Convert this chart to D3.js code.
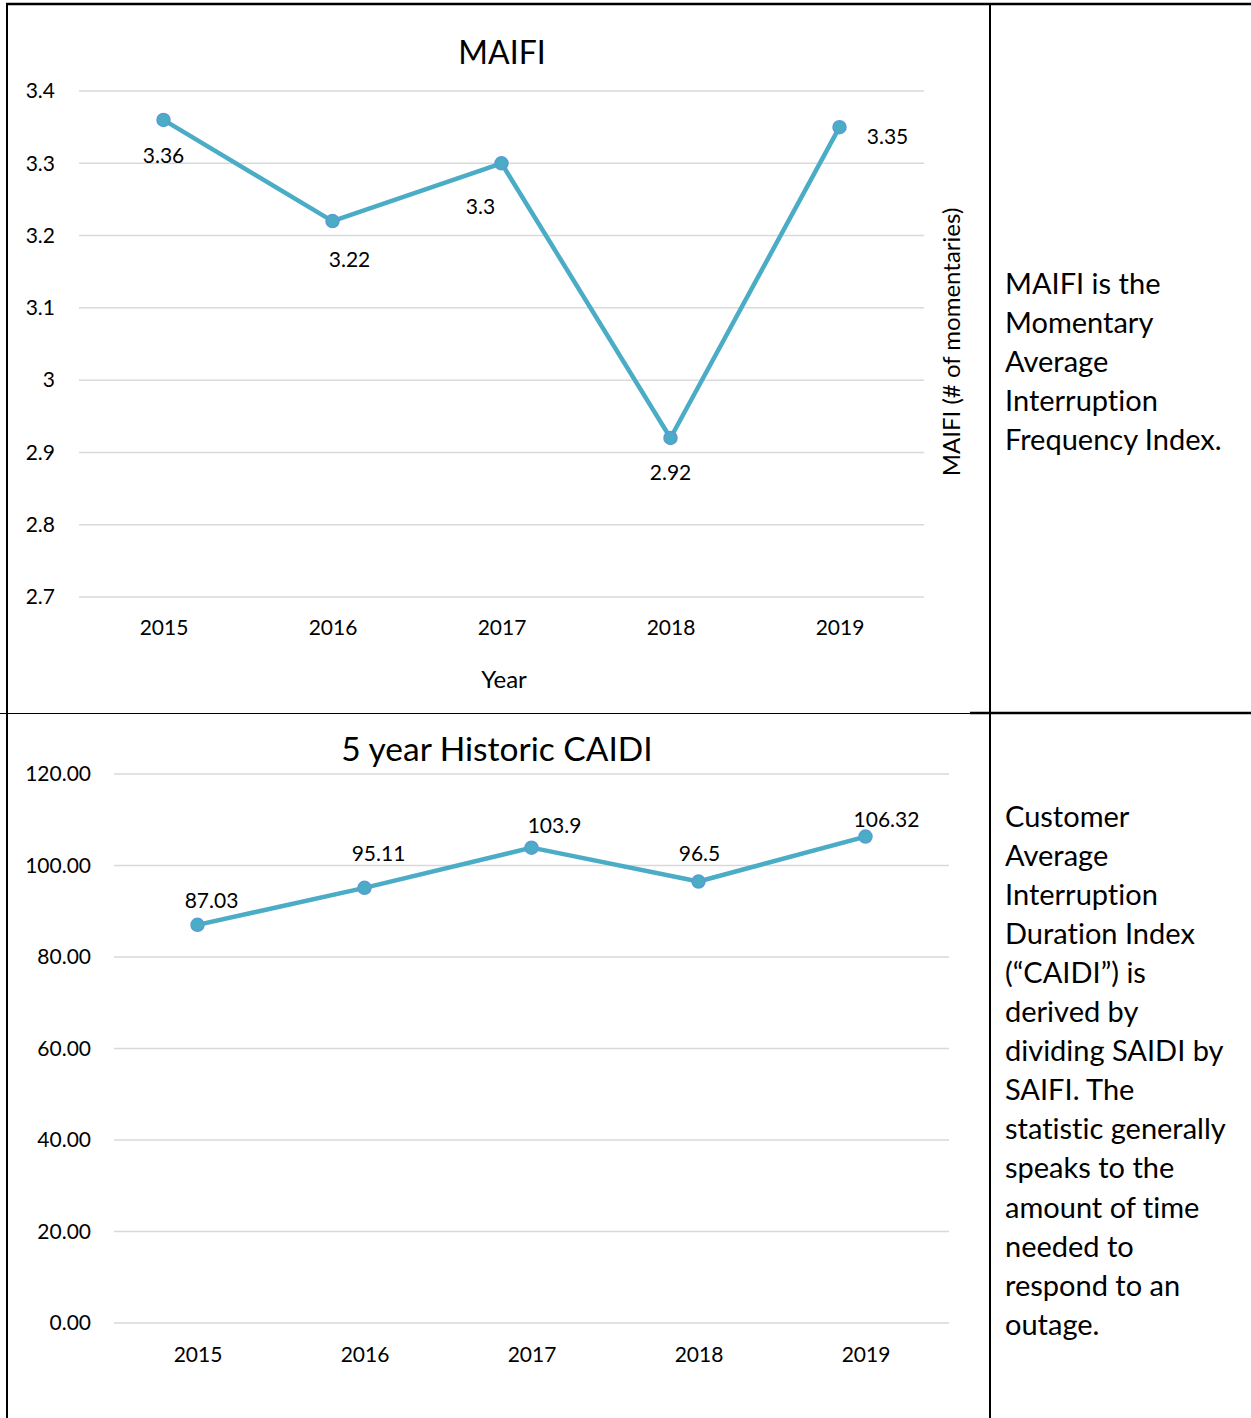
<!DOCTYPE html>
<html><head><meta charset="utf-8">
<script src="https://cdn.jsdelivr.net/npm/d3@7"></script>
<style>body{margin:0;background:#fff}svg{display:block}text{font-family:Lato,"Open Sans",sans-serif;fill:#000;font-variant-ligatures:none;font-feature-settings:"liga" 0}</style>
</head><body>
<svg id="c" width="1251" height="1418"></svg>
<script>
// ---- data ----
const years = ["2015","2016","2017","2018","2019"];
const maifiValues = [3.36, 3.22, 3.3, 2.92, 3.35];
const maifiLabels = ["3.36","3.22","3.3","2.92","3.35"];
const maifiTicks = [2.7,2.8,2.9,3.0,3.1,3.2,3.3,3.4];
const maifiTickLabels = ["2.7","2.8","2.9","3","3.1","3.2","3.3","3.4"];
const caidiValues = [87.03, 95.11, 103.9, 96.5, 106.32];
const caidiLabels = ["87.03","95.11","103.9","96.5","106.32"];
const caidiTicks = [0,20,40,60,80,100,120];
const caidiTickLabels = ["0.00","20.00","40.00","60.00","80.00","100.00","120.00"];
const maifiText = ["MAIFI is the","Momentary","Average","Interruption","Frequency Index."];
const caidiText = ["Customer","Average","Interruption","Duration Index","(\u201cCAIDI\u201d) is","derived by","dividing SAIDI by","SAIFI. The","statistic generally","speaks to the","amount of time","needed to","respond to an","outage."];

// ---- layout / style (not data) ----
const maifiOffsets = [[0,35],[17,37],[-21,42],[0,34],[48,8]];
const caidiOffsets = [[14,-25],[14,-35],[23,-23],[1,-29],[21,-18]];
const LINE = "#4BACC6", MARK_STROKE = "#5B9BD5", GRID = "#d9d9d9";

const svg = d3.select("#c");

// table borders
const bl = svg.append("g").attr("stroke","#000");
bl.append("line").attr("x1",6).attr("x2",1251).attr("y1",4).attr("y2",4).attr("stroke-width",2.5);
bl.append("line").attr("x1",7).attr("x2",7).attr("y1",3).attr("y2",1418).attr("stroke-width",2);
bl.append("line").attr("x1",990).attr("x2",990).attr("y1",3).attr("y2",1418).attr("stroke-width",2);
bl.append("line").attr("x1",0).attr("x2",970).attr("y1",713.5).attr("y2",713.5).attr("stroke-width",1);
bl.append("line").attr("x1",970).attr("x2",1251).attr("y1",713).attr("y2",713).attr("stroke-width",2.5);

function chart(cfg){
  const g = svg.append("g");
  const x = d3.scalePoint().domain(years).range([cfg.left,cfg.right]).padding(0.5);
  const y = d3.scaleLinear().domain(cfg.domain).range([cfg.bottom,cfg.top]);
  // grid
  g.append("g").selectAll("line").data(cfg.ticks).join("line")
    .attr("x1",cfg.left).attr("x2",cfg.right)
    .attr("y1",d=>y(d)).attr("y2",d=>y(d))
    .attr("stroke",GRID).attr("stroke-width",1.5);
  // y axis
  const ya = g.append("g").attr("transform",`translate(${cfg.left},0)`)
    .call(d3.axisLeft(y).tickValues(cfg.ticks).tickSize(0).tickPadding(cfg.yPad)
      .tickFormat((d,i)=>cfg.tickLabels[i]));
  ya.select(".domain").remove();
  ya.selectAll("text").attr("font-size",21).attr("font-family","Lato").attr("fill","#000");
  // x axis
  const xa = g.append("g").attr("transform",`translate(0,${cfg.bottom})`)
    .call(d3.axisBottom(x).tickSize(0).tickPadding(cfg.xPad));
  xa.select(".domain").remove();
  xa.selectAll("text").attr("font-size",21).attr("font-family","Lato").attr("fill","#000");
  // line
  const pts = years.map((yr,i)=>[x(yr), y(cfg.values[i])]);
  g.append("path").attr("d",d3.line()(pts)).attr("fill","none")
    .attr("stroke",LINE).attr("stroke-width",4.5).attr("stroke-linejoin","round");
  g.append("g").selectAll("circle").data(pts).join("circle")
    .attr("cx",d=>d[0]).attr("cy",d=>d[1]).attr("r",6.5)
    .attr("fill",LINE).attr("stroke",MARK_STROKE).attr("stroke-width",1.5);
  // labels
  g.append("g").selectAll("text").data(pts).join("text")
    .attr("x",(d,i)=>d[0]+cfg.offsets[i][0]).attr("y",(d,i)=>d[1]+cfg.offsets[i][1])
    .attr("text-anchor","middle").attr("dominant-baseline","central")
    .attr("font-size",21).text((d,i)=>cfg.labels[i]);
  // title
  g.append("text").attr("x",cfg.titleX).attr("y",cfg.titleY)
    .attr("text-anchor","middle").attr("dominant-baseline","central")
    .attr("font-size",cfg.titleSize).text(cfg.title);
  return g;
}

const g1 = chart({left:79,right:924,top:91,bottom:597,domain:[2.7,3.4],ticks:maifiTicks,
  tickLabels:maifiTickLabels,values:maifiValues,labels:maifiLabels,offsets:maifiOffsets,
  yPad:24,xPad:23,title:"MAIFI",titleX:502,titleY:51,titleSize:32});
g1.append("text").attr("x",504).attr("y",678).attr("text-anchor","middle")
  .attr("dominant-baseline","central").attr("font-size",24).text("Year");
g1.append("text").attr("transform","translate(950,342) rotate(-90)").attr("text-anchor","middle")
  .attr("dominant-baseline","central").attr("font-size",24).text("MAIFI (# of momentaries)");

chart({left:114,right:949,top:774,bottom:1323,domain:[0,120],ticks:caidiTicks,
  tickLabels:caidiTickLabels,values:caidiValues,labels:caidiLabels,offsets:caidiOffsets,
  yPad:23,xPad:24,title:"5 year Historic CAIDI",titleX:497,titleY:748,titleSize:33.5});

// side texts
function para(lines, y0){
  svg.append("g").selectAll("text").data(lines).join("text")
    .attr("x",1005).attr("y",(d,i)=>y0+i*39.1)
    .attr("dominant-baseline","central").attr("font-size",29).text(d=>d);
}
para(maifiText, 282);
para(caidiText, 815);
</script>
</body></html>
